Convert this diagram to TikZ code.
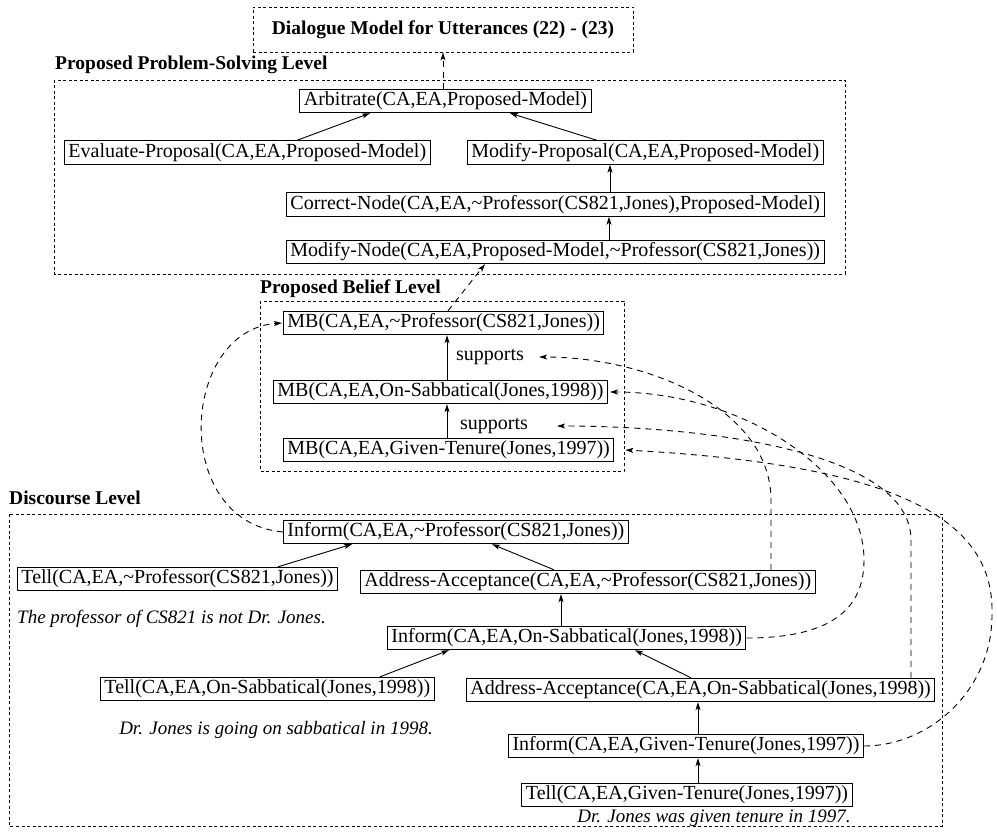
\documentclass[tikz,border=0pt]{standalone}
\usepackage{fontspec}
\setmainfont{Liberation Serif}
\usetikzlibrary{arrows.meta,calc}
\begin{document}
\begin{tikzpicture}[x=1pt,y=-1pt,
  every node/.style={font=\fontsize{20}{24}\selectfont},
  box/.style={draw, line width=0.9pt, inner xsep=4pt, inner ysep=2.5pt, text height=14pt, text depth=4.5pt},
  region/.style={draw, line width=0.8pt, dash pattern=on 3pt off 2.5pt},
  title/.style={font=\fontsize{19.5}{23}\selectfont\bfseries, anchor=west, inner sep=0pt},
  note/.style={font=\fontsize{19}{23}\selectfont\itshape, inner sep=0pt},
  lbl/.style={inner sep=1pt},
  arr/.style={line width=0.9pt, -{Stealth[length=8pt,width=5pt,inset=2pt]}},
  darr/.style={line width=0.9pt, dash pattern=on 6pt off 5pt, -{Stealth[length=8pt,width=5pt,inset=2pt]}}
]
\useasboundingbox (0,0) rectangle (997,834);

% regions
\node[region, minimum width=380pt, minimum height=45pt, font=\fontsize{19.5}{23}\selectfont\bfseries] (dlg) at (443,29.5) {Dialogue Model for Utterances (22) - (23)};
\node[title] (pstitle) at (55,65) {Proposed Problem-Solving Level};
\draw[region] (54,80) rectangle (845,274);
\node[title] (bltitle) at (260,289) {Proposed Belief Level};
\draw[region] (260,301) rectangle (624,471);
\node[title] (dctitle) at (9,498) {Discourse Level};
\draw[region] (9,514) rectangle (942,826);

% problem-solving level
\node[box] (arb) at (445.5,101) {Arbitrate(CA,EA,Proposed-Model)};
\node[box, anchor=west] (eval) at (64,152.5) {Evaluate-Proposal(CA,EA,Proposed-Model)};
\node[box, anchor=west] (modprop) at (467,152.5) {Modify-Proposal(CA,EA,Proposed-Model)};
\node[box, anchor=west] (corr) at (286,204.5) {Correct-Node(CA,EA,\textasciitilde Professor(CS821,Jones),Proposed-Model)};
\node[box, anchor=west] (modnode) at (286,252) {Modify-Node(CA,EA,Proposed-Model,\textasciitilde Professor(CS821,Jones))};

% belief level
\node[box, anchor=west] (mbprof) at (283,323) {MB(CA,EA,\textasciitilde Professor(CS821,Jones))};
\node[box, anchor=west] (mbsab) at (273,392) {MB(CA,EA,On-Sabbatical(Jones,1998))};
\node[box, anchor=west] (mbgt) at (283,450) {MB(CA,EA,Given-Tenure(Jones,1997))};
\node[lbl] (sup1) at (490,357) {supports};
\node[lbl] (sup2) at (494,426) {supports};

% discourse level
\node[box, anchor=west] (inf1) at (283,532) {Inform(CA,EA,\textasciitilde Professor(CS821,Jones))};
\node[box, anchor=west] (tell1) at (17,579) {Tell(CA,EA,\textasciitilde Professor(CS821,Jones))};
\node[box, anchor=west] (aa1) at (360,582) {Address-Acceptance(CA,EA,\textasciitilde Professor(CS821,Jones))};
\node[note, anchor=west] (n1) at (17,619) {The professor of CS821 is not Dr. Jones.};
\node[box, anchor=west] (inf2) at (387,638) {Inform(CA,EA,On-Sabbatical(Jones,1998))};
\node[box, anchor=west] (tell2) at (100,689) {Tell(CA,EA,On-Sabbatical(Jones,1998))};
\node[box, anchor=west] (aa2) at (466,690) {Address-Acceptance(CA,EA,On-Sabbatical(Jones,1998))};
\node[note] (n2) at (276,730) {Dr. Jones is going on sabbatical in 1998.};
\node[box] (inf3) at (686,746) {Inform(CA,EA,Given-Tenure(Jones,1997))};
\node[box] (tell3) at (687,795) {Tell(CA,EA,Given-Tenure(Jones,1997))};
\node[note] (n3) at (714,818) {Dr. Jones was given tenure in 1997.};

% solid arrows
\draw[arr] (eval.north -| 297,0) -- (arb.south -| 370,0);
\draw[arr] (modprop.north -| 597,0) -- (arb.south -| 510,0);
\draw[arr] (corr.north -| 610,0) -- (modprop.south -| 610,0);
\draw[arr] (modnode.north -| 609,0) -- (corr.south -| 609,0);
\draw[arr] (mbsab.north -| 447,0) -- (mbprof.south -| 447,0);
\draw[arr] (mbgt.north -| 447,0) -- (mbsab.south -| 447,0);
\draw[arr] (tell1.north -| 278,0) -- (inf1.south -| 352,0);
\draw[arr] (aa1.north -| 554,0) -- (inf1.south -| 492,0);
\draw[arr] (inf2.north -| 561,0) -- (aa1.south -| 561,0);
\draw[arr] (tell2.north -| 380,0) -- (inf2.south -| 449,0);
\draw[arr] (aa2.north -| 691,0) -- (inf2.south -| 635,0);
\draw[arr] (inf3.north -| 698,0) -- (aa2.south -| 698,0);
\draw[arr] (tell3.north -| 698,0) -- (inf3.south -| 698,0);

% dashed arrows
\draw[darr] (arb.north -| 443,0) -- (dlg.south -| 443,0);
\draw[darr] (mbprof.north -| 448,0) -- (modnode.south -| 485,0);
\draw[darr] (inf1.west) .. controls (170,522) and (180,330) .. ([xshift=-1pt]mbprof.west);
\draw[darr] (aa1.north -| 771,0) -- (771,500) .. controls (771,410) and (650,357) .. ([xshift=14pt]sup1.east);
\draw[darr] (inf2.east) .. controls (830,638) and (864,610) .. (864,560) .. controls (864,470) and (740,392) .. ([xshift=2pt]mbsab.east);
\draw[darr] (aa2.north -| 911,0) -- (911,540) .. controls (911,450) and (700,426) .. ([xshift=28pt]sup2.east);
\draw[darr] (inf3.east) .. controls (930,746) and (992,690) .. (992,615) .. controls (995,520) and (900,465) .. ([xshift=11pt]mbgt.east);
\end{tikzpicture}
\end{document}
